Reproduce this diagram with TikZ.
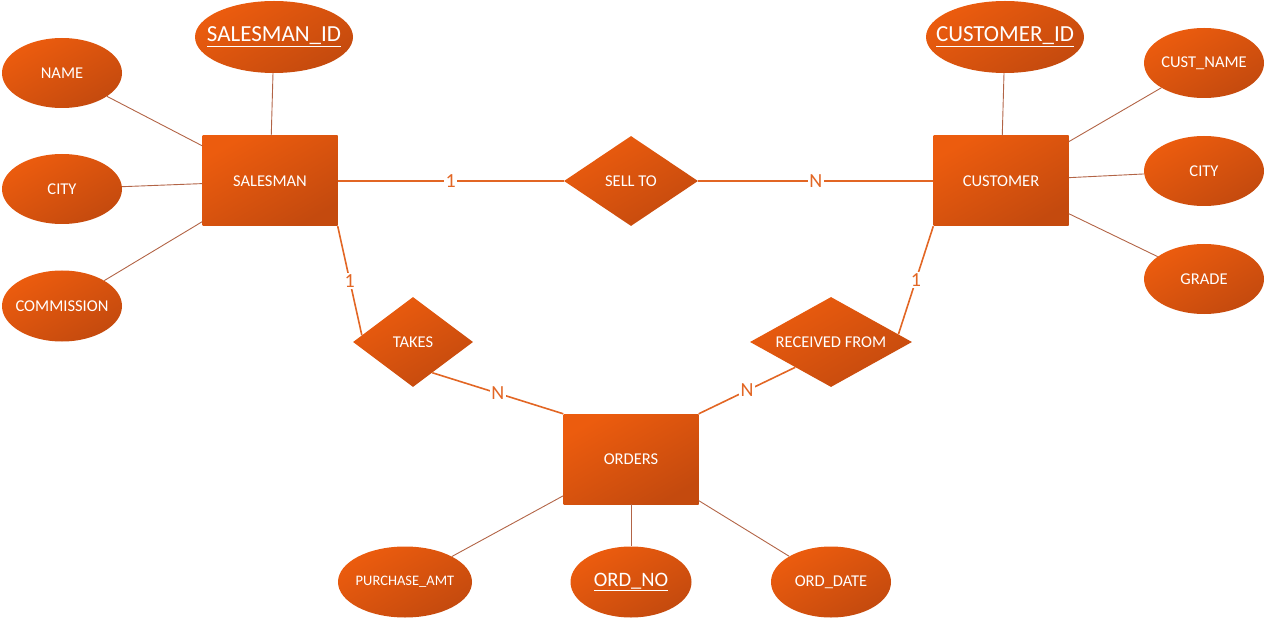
\documentclass[tikz,border=0pt]{standalone}
\usepackage{fontspec}
\setmainfont{Carlito}
\usetikzlibrary{shapes.geometric,calc}
\definecolor{erLight}{RGB}{236,92,14}
\definecolor{erDark}{RGB}{196,74,14}
\definecolor{erLine}{RGB}{226,102,36}
\definecolor{erThin}{RGB}{178,100,70}
\newcommand{\erText}[1]{\makebox[0pt]{#1}}

\begin{document}
\begin{tikzpicture}[
    x=1pt, y=-1pt,
    every node/.style={font=\fontsize{16.5}{18}\selectfont, text=white},
    erfill/.style={draw=none, top color=erLight, bottom color=erDark, shading angle=30},
    entity/.style={erfill, rectangle, minimum width=135pt, minimum height=90pt, inner sep=0pt},
    attr/.style={erfill, ellipse, minimum width=120pt, minimum height=70pt, inner sep=0pt},
    keyattr/.style={attr, minimum width=158pt, minimum height=72pt, font=\fontsize{23}{26}\selectfont},
    relation/.style={erfill, diamond, minimum width=120pt, minimum height=90pt, inner sep=0pt},
    link/.style={erLine, line width=1.6pt},
    attrlink/.style={erThin, line width=0.9pt},
    card/.style={fill=white, text=erLine, inner sep=1.5pt, font=\fontsize{20}{22}\selectfont},
]
\useasboundingbox (0,0) rectangle (1266,620);
% entities
\node[entity] (salesman) at (270,181) {\erText{SALESMAN}};
\node[entity] (customer) at (1001,181) {\erText{CUSTOMER}};
\node[entity] (orders) at (631,459) {\erText{ORDERS}};
% relationships
\node[relation, minimum width=134pt] (sellto) at (631,181) {\erText{SELL TO}};
\node[relation] (takes) at (413,342) {\erText{TAKES}};
\node[relation, minimum width=162pt] (received) at (831,342) {\erText{RECEIVED FROM}};
% attributes of salesman
\node[keyattr] (sid) at (274,37) {\erText{\underline{SALESMAN\_ID}}};
\node[attr] (sname) at (62,73) {\erText{NAME}};
\node[attr] (scity) at (62,189) {\erText{CITY}};
\node[attr, minimum height=71pt] (scomm) at (62,306) {\erText{COMMISSION}};
% attributes of customer
\node[keyattr] (cid) at (1005,37) {\erText{\underline{CUSTOMER\_ID}}};
\node[attr] (cname) at (1204,63) {\erText{CUST\_NAME}};
\node[attr] (ccity) at (1204,171) {\erText{CITY}};
\node[attr] (cgrade) at (1204,279) {\erText{GRADE}};
% attributes of orders
\node[attr, minimum width=134pt, minimum height=71pt, font=\fontsize{14.5}{16}\selectfont] (oamt) at (405,582) {\erText{PURCHASE\_AMT}};
\node[keyattr, minimum width=121pt, minimum height=71pt, font=\fontsize{20.5}{22}\selectfont] (ono) at (631,582) {\erText{\underline{ORD\_NO}}};
\node[attr, minimum height=71pt] (odate) at (831,582) {\erText{ORD\_DATE}};
% attribute lines
\draw[attrlink] (salesman) -- (sid);
\draw[attrlink] (salesman) -- (sname);
\draw[attrlink] (salesman) -- (scity);
\draw[attrlink] (salesman) -- (scomm);
\draw[attrlink] (customer) -- (cid);
\draw[attrlink] (customer) -- (cname);
\draw[attrlink] (customer) -- (ccity);
\draw[attrlink] (customer) -- (cgrade);
\draw[attrlink] (orders) -- (oamt);
\draw[attrlink] (orders) -- (ono);
\draw[attrlink] (orders) -- (odate);
% relationship lines
\draw[link] (salesman) -- node[card] {1} (sellto);
\draw[link] (sellto) -- node[card] {N} (customer);
\draw[link] (salesman.south east) -- node[card] {1} ($(takes.west)!0.15!(takes.north)$);
\draw[link] ($(takes.south)!0.32!(takes.east)$) -- node[card] {N} (orders.north west);
\draw[link] (orders.north east) -- node[card] {N} ($(received.south)!0.44!(received.west)$);
\draw[link] ($(received.east)!0.17!(received.north)$) -- node[card] {1} (customer.south west);
\end{tikzpicture}
\end{document}
